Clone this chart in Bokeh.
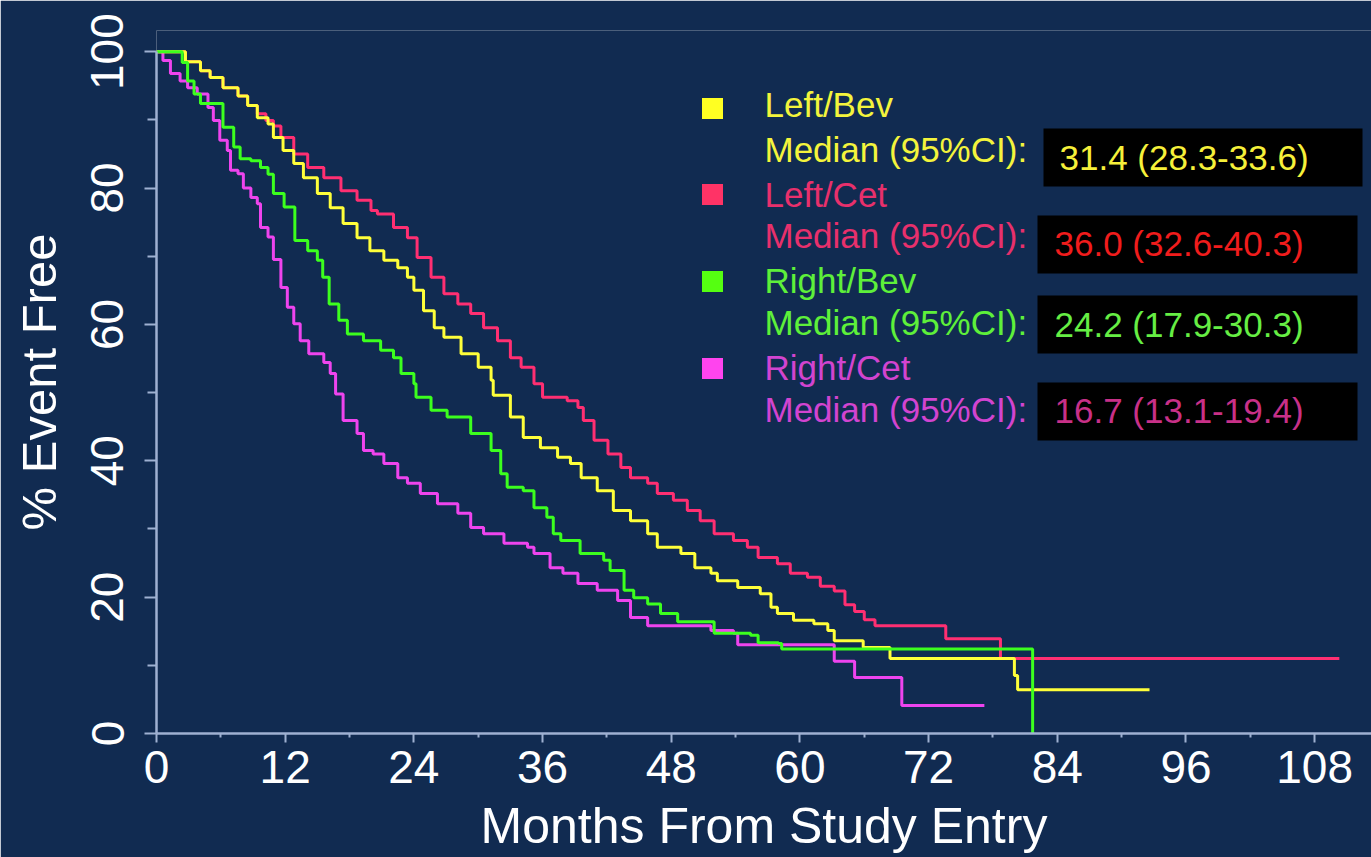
import math
from bokeh.plotting import figure
from bokeh.models import Range1d, FixedTicker
from bokeh.core.properties import value
from bokeh.embed import file_html
from bokeh.resources import INLINE

# ---- Kaplan-Meier step data: month of each step and % event free after it ----
left_bev_months = [0, 2.7, 4.1, 5.0, 6.2, 7.6, 8.5, 9.4, 10.4, 10.9, 11.8, 12.8, 13.7, 15.0, 16.2,
                   17.4, 18.7, 19.9, 21.2, 22.5, 23.4, 24.0, 24.9, 25.9, 26.8, 28.4, 30.0, 31.2,
                   31.4, 33.0, 34.2, 35.8, 37.4, 38.6, 39.6, 41.1, 42.6, 44.2, 45.8, 46.7, 48.9,
                   50.2, 51.7, 52.3, 54.2, 56.3, 57.3, 57.9, 59.4, 61.3, 62.6, 63.2, 65.9, 68.4,
                   80.0, 80.3, 92.6]
left_bev_pct = [100, 98.5, 97.2, 96.2, 94.7, 93.5, 92.1, 90.3, 89.4, 87.4, 85.5, 83.6, 81.5, 79.2,
                77.1, 74.8, 72.7, 70.8, 69.4, 68.3, 66.9, 65.0, 62.0, 59.5, 58.1, 55.7, 53.7, 51.8,
                49.6, 46.4, 43.4, 41.9, 40.5, 39.6, 37.5, 35.6, 32.7, 31.2, 29.3, 27.3, 26.4, 24.3,
                23.5, 22.4, 21.4, 20.5, 18.5, 17.6, 16.6, 16.1, 15.1, 13.6, 12.6, 11.0, 8.5, 6.4,
                6.4]

left_cet_months = [0, 2.7, 4.1, 5.0, 6.2, 7.6, 8.5, 9.4, 10.2, 10.9, 11.6, 12.8, 14.1, 15.6, 17.2,
                   18.7, 20.0, 20.6, 22.1, 23.4, 24.3, 25.6, 26.8, 28.1, 29.3, 30.5, 31.8, 33.0,
                   34.0, 35.2, 36.0, 38.3, 39.3, 39.8, 40.8, 42.1, 43.3, 44.2, 45.8, 46.7, 48.2,
                   49.5, 50.7, 52.0, 53.8, 55.1, 56.1, 57.9, 59.1, 60.7, 61.9, 63.2, 64.2, 65.1,
                   66.0, 67.0, 73.6, 78.7, 110.3]
left_cet_pct = [100, 98.5, 97.2, 96.2, 94.7, 93.5, 92.1, 90.9, 89.9, 89.1, 87.4, 85.0, 83.0, 81.5,
                79.6, 78.2, 76.7, 76.2, 74.2, 72.7, 69.8, 66.9, 64.5, 63.0, 61.6, 59.5, 57.6, 55.1,
                53.7, 51.3, 49.3, 48.8, 47.8, 45.9, 43.0, 41.0, 39.0, 37.5, 36.7, 35.2, 34.2, 32.7,
                31.2, 29.3, 28.3, 27.3, 25.8, 24.9, 23.5, 22.9, 21.6, 20.9, 18.9, 17.9, 16.7, 15.8,
                13.9, 11.0, 11.0]

right_bev_months = [0, 2.4, 2.9, 3.5, 4.1, 6.2, 7.2, 7.8, 8.8, 9.7, 10.4, 10.9, 11.9, 12.9, 14.1,
                    15.0, 15.5, 16.1, 17.0, 17.8, 19.3, 20.9, 22.1, 22.8, 24.0, 24.2, 25.6, 27.1,
                    29.3, 31.2, 32.1, 32.7, 34.2, 35.2, 36.4, 37.0, 37.7, 39.5, 41.7, 42.3, 43.6,
                    44.5, 45.8, 47.0, 48.6, 52.0, 55.4, 56.1, 58.0, 58.3, 81.7]
right_bev_pct = [100, 98.4, 95.7, 93.8, 92.4, 88.9, 86.0, 84.3, 84.0, 83.0, 82.0, 79.2, 77.2, 72.3,
                 70.8, 69.4, 66.9, 63.0, 60.6, 58.6, 57.6, 56.2, 55.1, 52.8, 51.3, 49.3, 47.4, 46.4,
                 44.0, 41.5, 38.1, 36.1, 35.6, 33.1, 31.7, 29.3, 28.3, 26.4, 25.4, 23.9, 21.0, 19.9,
                 19.0, 17.6, 16.4, 14.7, 14.4, 13.3, 13.2, 12.4, 0]

right_cet_months = [0, 0.6, 1.3, 2.2, 2.9, 3.8, 4.8, 5.3, 5.9, 6.6, 6.9, 7.6, 8.1, 8.8, 9.4, 9.7,
                    10.4, 10.9, 11.6, 12.2, 12.8, 13.4, 14.2, 15.6, 16.2, 16.7, 17.4, 18.7, 19.3,
                    20.2, 21.2, 22.5, 23.4, 24.6, 26.2, 28.1, 29.3, 30.5, 32.4, 34.6, 35.2, 36.7,
                    37.9, 39.3, 41.1, 43.0, 44.2, 45.8, 51.7, 53.8, 54.2, 63.2, 65.1, 69.5, 77.2]
right_cet_pct = [100, 98.7, 96.8, 95.7, 94.7, 93.8, 91.8, 89.9, 87.0, 85.5, 82.6, 82.1, 80.0, 78.6,
                 77.7, 74.2, 72.8, 69.5, 65.4, 62.5, 60.1, 57.6, 55.7, 54.4, 52.8, 49.8, 45.9, 44.0,
                 41.5, 41.0, 39.6, 37.5, 36.7, 35.2, 33.7, 32.3, 30.2, 29.3, 27.9, 27.3, 26.4, 24.3,
                 23.5, 22.0, 21.0, 19.5, 17.0, 15.8, 15.1, 14.7, 13.0, 10.6, 8.2, 4.1, 4.1]

group_names = ["Left/Bev", "Left/Cet", "Right/Bev", "Right/Cet"]
median_ci = ["31.4 (28.3-33.6)", "36.0 (32.6-40.3)", "24.2 (17.9-30.3)", "16.7 (13.1-19.4)"]
median_label = "Median (95%CI):"

x_ticks = [0, 12, 24, 36, 48, 60, 72, 84, 96, 108]
x_minor_ticks = [6, 18, 30, 42, 54, 66, 78, 90, 102]
y_ticks = [0, 20, 40, 60, 80, 100]
y_minor_ticks = [10, 30, 50, 70, 90]

x_title = "Months From Study Entry"
y_title = "% Event Free"

# ---- styling ----
BG = "#112b51"
AXIS_COLOR = "#9fb1d2"
FONT = "Liberation Sans"
line_colors = ["#ffff3a", "#ff2f72", "#3cff1e", "#ee44ee"]
square_colors = ["#ffff22", "#ff3366", "#55ff11", "#ff44ee"]
name_colors = ["#f4f43c", "#e8306c", "#5ef03a", "#d244d0"]
ci_colors = ["#f6f03a", "#f01c1c", "#66ee44", "#c83088"]

W, H = 1371, 857
LEFT, TOP, BOTTOM = 156, 30, 124
X_MAX, Y_MAX = 113.3, 103.1
FRAME_W = W - LEFT
FRAME_H = H - TOP - BOTTOM


def mx(px):
    """canvas x pixel -> months"""
    return (px - LEFT) / FRAME_W * X_MAX


def my(py):
    """canvas y pixel -> percent"""
    return (H - BOTTOM - py) / FRAME_H * Y_MAX


p = figure(width=W, height=H, x_range=Range1d(0, X_MAX), y_range=Range1d(0, Y_MAX),
           output_backend="svg", toolbar_location=None,
           min_border_left=LEFT, min_border_right=0, min_border_top=TOP, min_border_bottom=BOTTOM,
           background_fill_color=BG, border_fill_color=BG, outline_line_color=None)
p.grid.visible = False

# survival curves
curves = [
    (left_cet_months, left_cet_pct, line_colors[1]),
    (right_cet_months, right_cet_pct, line_colors[3]),
    (left_bev_months, left_bev_pct, line_colors[0]),
    (right_bev_months, right_bev_pct, line_colors[2]),
]
for xs, ys, c in curves:
    p.step(xs, ys, mode="after", line_color=c, line_width=3)

# legend: coloured squares, group names, median lines and black value boxes
sq_y = [108, 194, 281, 368]
name_mid = [104, 194, 280, 367]
med_mid = [149, 235, 322, 409]
ci_mid = [157, 243, 324, 410]
box_tb = [(128, 186), (215, 273), (295, 353), (382, 440)]
box_lr = [(1043, 1362), (1037, 1357), (1037, 1357), (1037, 1357)]
ci_left = [1059, 1054, 1054, 1054]
LEG_FONT = "35px"

p.quad(left=[mx(l) for l, r in box_lr], right=[mx(r) for l, r in box_lr],
       top=[my(t) for t, b in box_tb], bottom=[my(b) for t, b in box_tb],
       fill_color="black", line_color=None)
p.scatter(x=[mx(712)] * 4, y=[my(v) for v in sq_y], marker="square", size=21,
          fill_color=square_colors, line_color=None)
p.text(x=[mx(764)] * 4, y=[my(v) for v in name_mid], text=group_names,
       text_color=name_colors, text_font=value(FONT), text_font_size=LEG_FONT,
       text_baseline="middle", text_align="left")
p.text(x=[mx(764)] * 4, y=[my(v) for v in med_mid], text=[median_label] * 4,
       text_color=name_colors, text_font=value(FONT), text_font_size=LEG_FONT,
       text_baseline="middle", text_align="left")
p.text(x=[mx(v) for v in ci_left], y=[my(v) for v in ci_mid], text=median_ci,
       text_color=ci_colors, text_font=value(FONT), text_font_size=LEG_FONT,
       text_baseline="middle", text_align="left")

# axes
p.xaxis.ticker = FixedTicker(ticks=x_ticks, minor_ticks=x_minor_ticks)
p.yaxis.ticker = FixedTicker(ticks=y_ticks, minor_ticks=y_minor_ticks)
p.yaxis.bounds = (0, 100)
p.yaxis.major_label_orientation = "vertical"
p.xaxis.axis_label = x_title
p.yaxis.axis_label = y_title

for ax in (p.xaxis[0], p.yaxis[0]):
    ax.axis_line_color = AXIS_COLOR
    ax.axis_line_width = 2.5
    ax.major_tick_line_color = AXIS_COLOR
    ax.minor_tick_line_color = AXIS_COLOR
    ax.major_tick_line_width = 2
    ax.minor_tick_line_width = 2
    ax.major_tick_in = 0
    ax.minor_tick_in = 0
    ax.major_label_text_color = "white"
    ax.major_label_text_font = FONT
    ax.major_label_text_font_size = "46px"
    ax.axis_label_text_color = "white"
    ax.axis_label_text_font = FONT
    ax.axis_label_text_font_style = "normal"

p.xaxis.major_tick_out = 9
p.xaxis.minor_tick_out = 4
p.xaxis.major_label_standoff = 8
p.xaxis.axis_label_standoff = 12
p.xaxis.axis_label_text_font_size = "50px"
p.yaxis.major_tick_out = 12
p.yaxis.minor_tick_out = 9
p.yaxis.major_label_standoff = 21
p.yaxis.axis_label_standoff = 23
p.yaxis.axis_label_text_font_size = "49px"

open("out.html", "w").write(file_html(p, INLINE))
